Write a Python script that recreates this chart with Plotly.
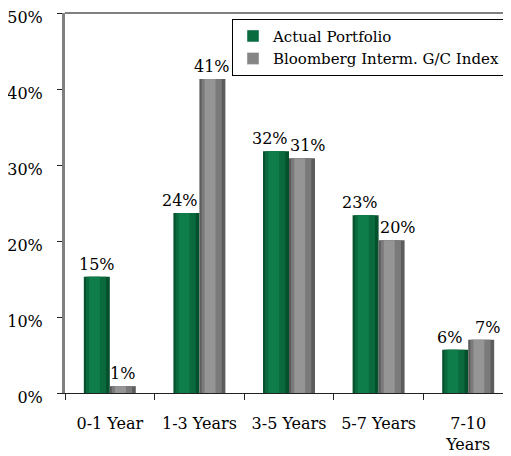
import plotly.graph_objects as go

categories = ["0-1 Year", "1-3 Years", "3-5 Years", "5-7 Years", "7-10<br>Years"]
portfolio = [15.3, 23.7, 31.8, 23.4, 5.7]
index_vals = [0.9, 41.3, 30.9, 20.1, 7.0]
series_names = ["Actual Portfolio", "Bloomberg Interm. G/C Index"]
y_ticks = [0, 10, 20, 30, 40, 50]

FONT = "DejaVu Serif"
BW = 0.29  # bar width in category units
NUDGE = 6  # px a value label is pushed away from the neighbouring bar when crowded

# (offset within bar, width fraction, color) layers to mimic cylinder shading
green_layers = [(0.0, 1.0, "#05502d"), (0.08, 0.78, "#0a6a3d"), (0.2, 0.42, "#0f7d4a")]
gray_layers = [(0.0, 1.0, "#5c5c5c"), (0.08, 0.78, "#7a7a7a"), (0.2, 0.42, "#959595")]

fig = go.Figure()


def add_series(vals, name, layers, start, legend_color):
    for off, frac, col in layers:
        fig.add_trace(go.Bar(
            x=categories, y=vals, name=name,
            width=BW * frac, offset=start + BW * off,
            marker=dict(color=col, line=dict(width=0)),
            showlegend=False, hoverinfo="skip",
        ))
    fig.add_trace(go.Bar(x=[None], y=[None], name=name,
                         marker=dict(color=legend_color), showlegend=True))


add_series(portfolio, series_names[0], green_layers, -BW, "#0a6b3f")
add_series(index_vals, series_names[1], gray_layers, 0.0, "#858585")


def label_shift(v, other, direction):
    text = f"{v:.0f}%"
    crowded = abs(v - other) < 4 or (other > v and len(text) > 2)
    return direction * NUDGE if crowded else 0


for i, cat in enumerate(categories):
    for v, other, side in ((portfolio[i], index_vals[i], -1), (index_vals[i], portfolio[i], 1)):
        fig.add_annotation(
            x=i + side * BW / 2, y=v, xref="x", yref="y",
            text=f"{v:.0f}%", showarrow=False,
            xanchor="center", yanchor="bottom", yshift=1,
            xshift=label_shift(v, other, side),
            font=dict(family=FONT, size=16, color="black"),
        )

fig.update_layout(
    width=511, height=456,
    margin=dict(l=57, r=6, t=5, b=71, autoexpand=False),
    paper_bgcolor="white", plot_bgcolor="white",
    barmode="overlay",
    font=dict(family=FONT, size=16, color="black"),
    showlegend=True,
    legend=dict(
        x=(224 - 57) / 448, y=0.985, xanchor="left", yanchor="top",
        bordercolor="black", borderwidth=1, bgcolor="white",
        font=dict(family=FONT, size=15, color="black"),
        itemwidth=30, tracegroupgap=0,
    ),
)
fig.update_xaxes(
    showline=True, linecolor="#222222", linewidth=1,
    ticks="outside", tickson="boundaries", ticklen=6, tickcolor="#222222",
    showgrid=False, tickfont=dict(family=FONT, size=16),
    ticklabelstandoff=16, automargin=False,
)
fig.update_yaxes(
    range=[0, 50], tickvals=y_ticks, ticktext=[f"{v}%" for v in y_ticks],
    showline=True, linecolor="#808080", linewidth=3,
    ticks="outside", ticklen=5, tickcolor="#222222",
    showgrid=False, zeroline=False, tickfont=dict(family=FONT, size=16),
    ticklabelstandoff=11, ticklabelshift=4, ticklabeloverflow="allow",
    automargin=False,
)
fig.add_shape(type="line", xref="paper", yref="paper", x0=0, x1=1, y0=1, y1=1,
              line=dict(color="#808080", width=2))

fig.write_html("out.html")
